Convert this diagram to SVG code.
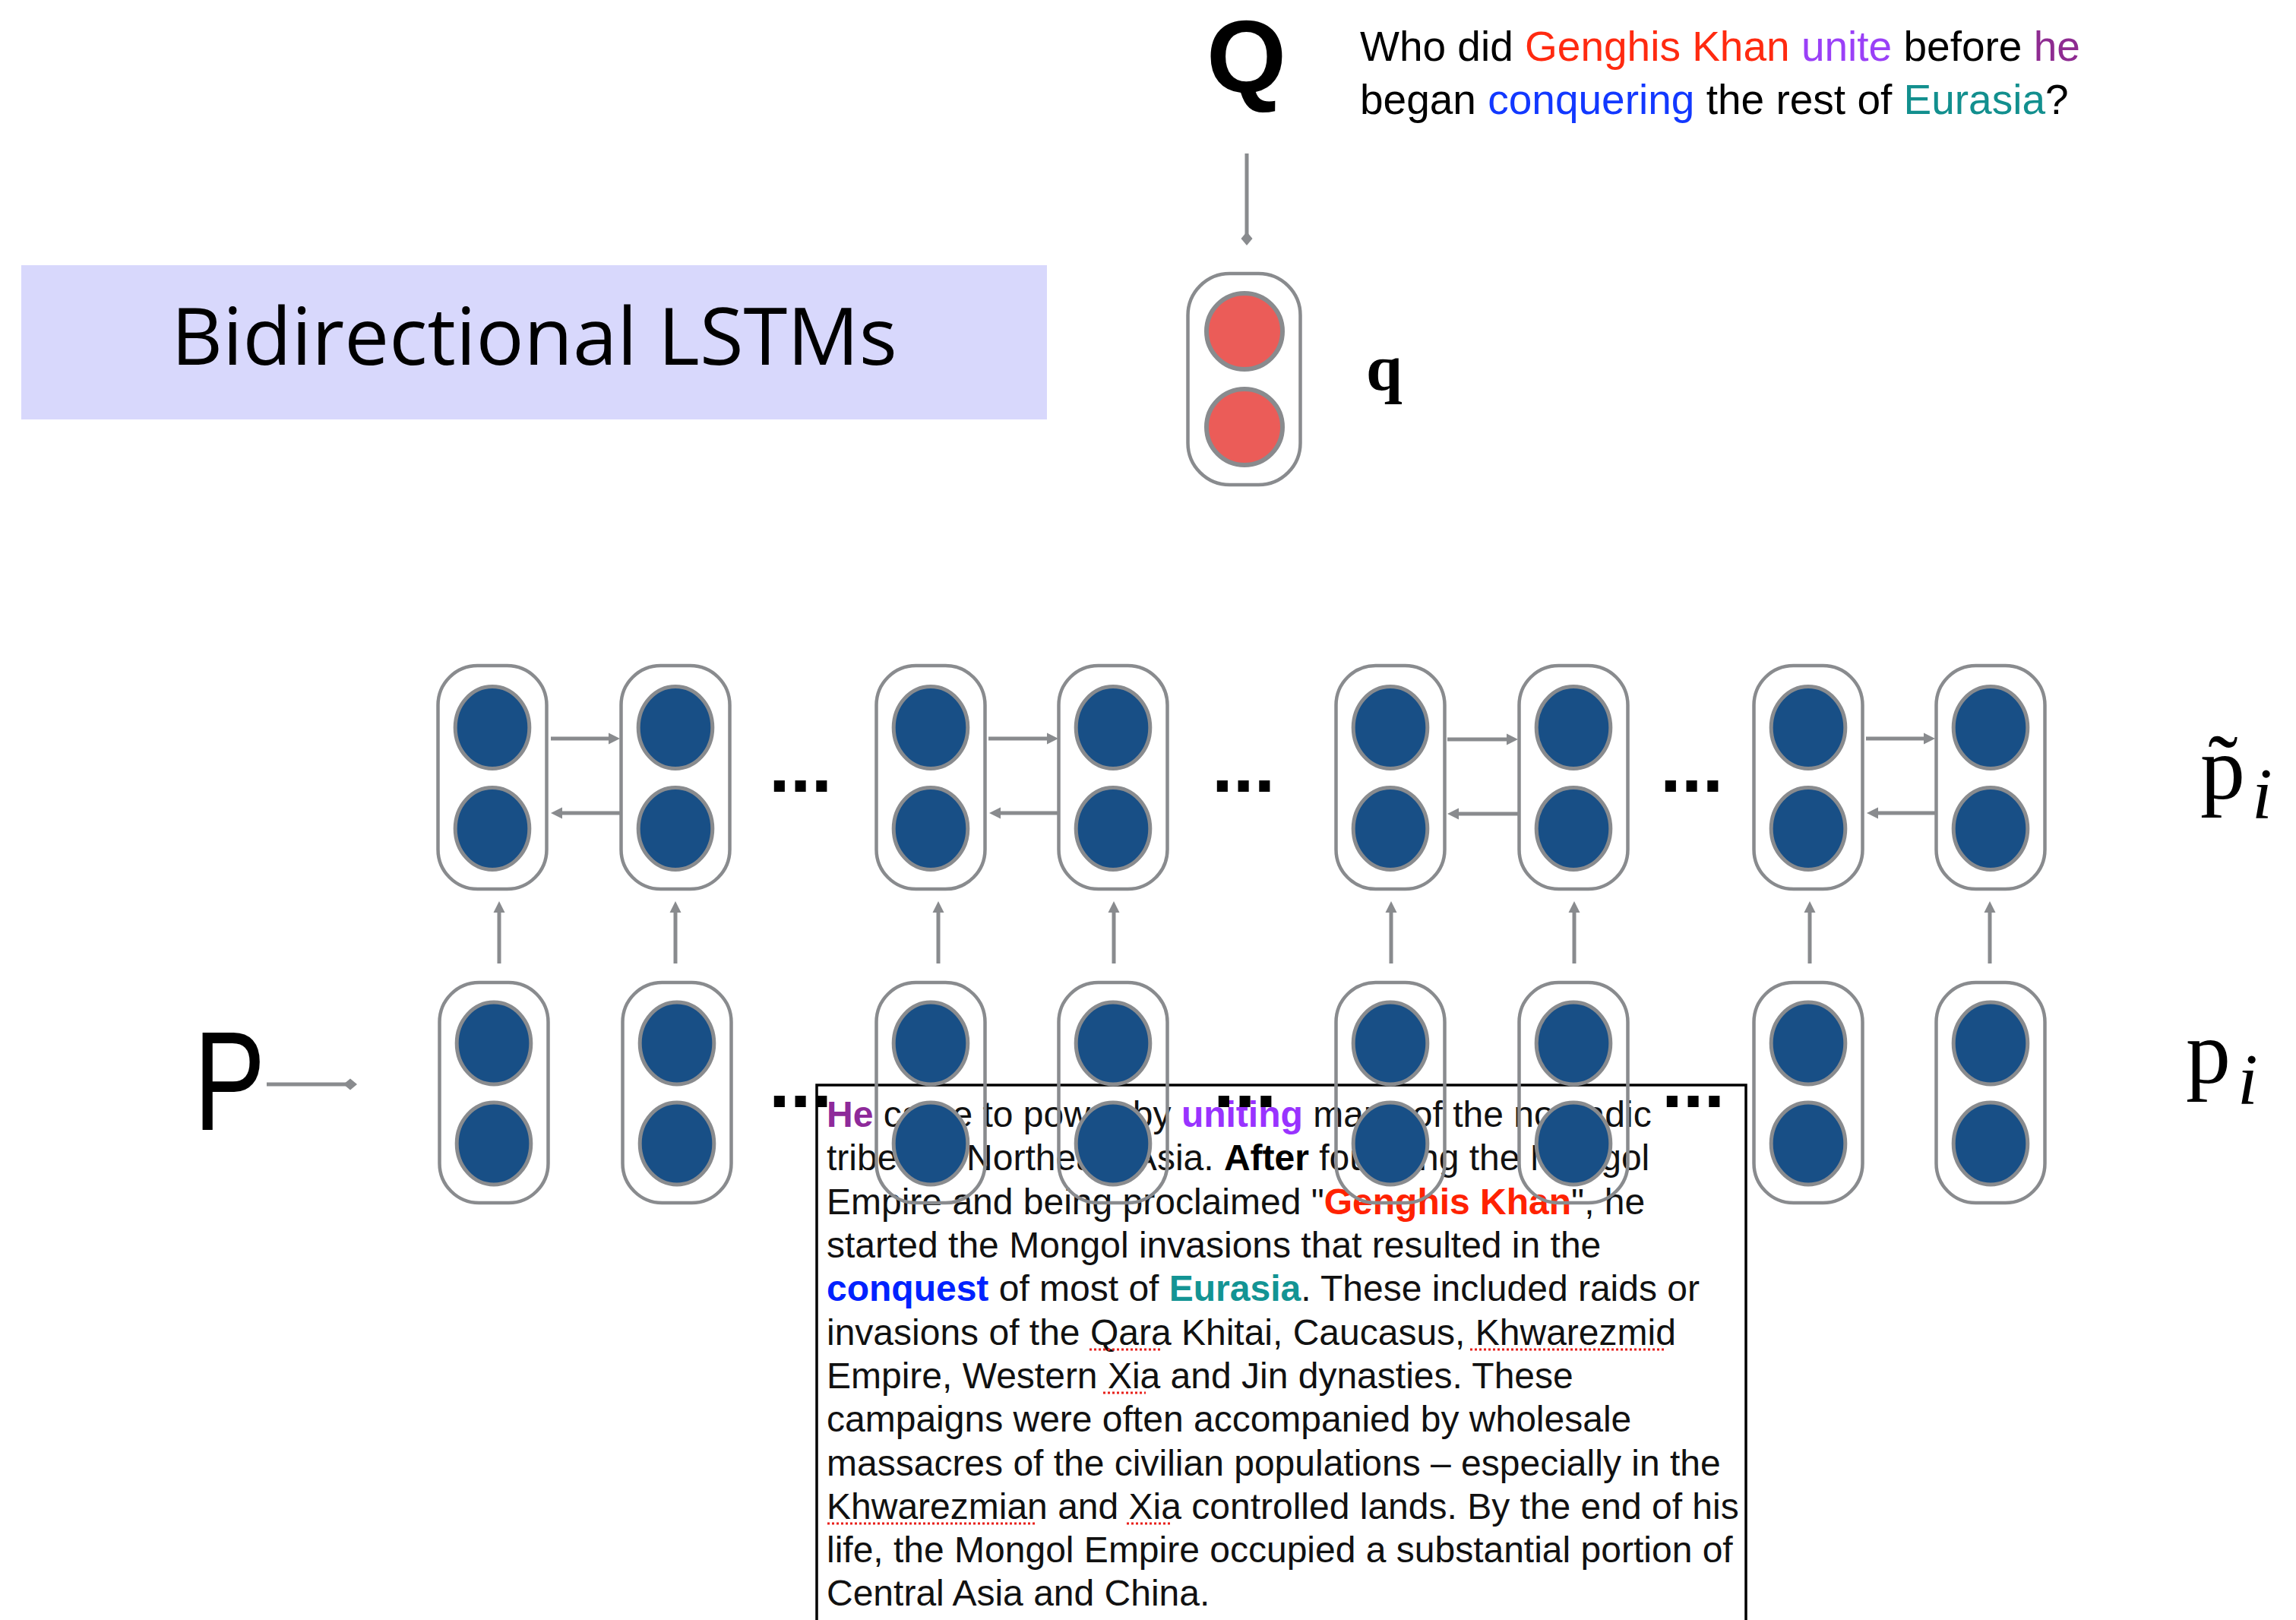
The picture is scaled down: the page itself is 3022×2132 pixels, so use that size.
<svg xmlns="http://www.w3.org/2000/svg" width="3022" height="2132" viewBox="0 0 3022 2132">
<style>
.pill{fill:none;stroke:#898B8E;stroke-width:4.5}
.cell{fill:#184F86;stroke:#898B8E;stroke-width:5}
.qcell{fill:#EB5C58;stroke:#898B8E;stroke-width:6}
.con{stroke:#898B8E;stroke-width:5;fill:none}
.dots{font-family:"Liberation Sans",Arial,sans-serif;font-weight:bold;font-size:100px;fill:#000}
.qt{font-family:"Liberation Sans",Arial,sans-serif;font-size:55px;fill:#000}
.pt{font-family:"Liberation Sans",Arial,sans-serif;font-size:48px;fill:#111}
.b{font-weight:bold}
.math{font-family:"Liberation Serif","Times New Roman",serif;fill:#000}
.sp{fill:none;stroke:#E8201A;stroke-width:3;stroke-dasharray:3 3}
</style>
<defs>
<marker id="tri" markerUnits="userSpaceOnUse" markerWidth="16" markerHeight="16" viewBox="0 -8 16 16" refX="1" refY="0" orient="auto">
<path d="M0,-7.5 L15,0 L0,7.5 Z" fill="#898B8E"/>
</marker>
<marker id="dia" markerUnits="userSpaceOnUse" markerWidth="18" markerHeight="16" viewBox="0 -8 18 16" refX="9" refY="0" orient="auto">
<path d="M0,0 L9,-7.5 L18,0 L9,7.5 Z" fill="#898B8E"/>
</marker>
<g id="cellT">
<rect class="pill" x="-71.5" y="876" width="143" height="294" rx="52" ry="52"/>
<ellipse class="cell" cx="0" cy="957.5" rx="48.8" ry="54"/>
<ellipse class="cell" cx="0" cy="1090.5" rx="48.8" ry="54"/>
</g>
<g id="cellB">
<rect class="pill" x="-71.5" y="1293" width="143" height="290" rx="52" ry="52"/>
<ellipse class="cell" cx="0" cy="1373" rx="48.8" ry="54"/>
<ellipse class="cell" cx="0" cy="1505" rx="48.8" ry="54"/>
</g>
</defs>
<rect width="3022" height="2132" fill="#fff"/>

<g id="title">
<rect x="28" y="349" width="1350" height="203" fill="#D8D8FC"/>
<text x="703" y="480" text-anchor="middle" font-family="'Open Sans',sans-serif" font-size="105" fill="#000">Bidirectional LSTMs</text>
</g>

<g id="question">
<text x="1588" y="121" font-family="'Liberation Sans',Arial,sans-serif" font-size="135" font-weight="bold" fill="#000">Q</text>
<text class="qt" x="1790" y="80">Who did <tspan fill="#FF2A10">Genghis Khan</tspan> <tspan fill="#9A40F7">unite</tspan> before <tspan fill="#8E2B91">he</tspan></text>
<text class="qt" x="1790" y="150">began <tspan fill="#1238FF">conquering</tspan> the rest of <tspan fill="#128F8E">Eurasia</tspan>?</text>
</g>

<g id="passage">
<path d="M1075,2145 V1428 H2298 V2145" fill="#fff" stroke="#000" stroke-width="3.5"/>
<text class="pt" x="1088" y="1483"><tspan class="b" fill="#8E2A9A">He</tspan> came to power by <tspan class="b" fill="#9933FF">uniting</tspan> many of the nomadic</text>
<text class="pt" x="1088" y="1540">tribes of Northeast Asia. <tspan class="b" fill="#000">After</tspan> founding the Mongol</text>
<text class="pt" x="1088" y="1598">Empire and being proclaimed "<tspan class="b" fill="#FF2200">Genghis Khan</tspan>", he</text>
<text class="pt" x="1088" y="1655">started the Mongol invasions that resulted in the</text>
<text class="pt" x="1088" y="1712"><tspan class="b" fill="#0022FF">conquest</tspan> of most of <tspan class="b" fill="#139494">Eurasia</tspan>. These included raids or</text>
<text class="pt" x="1088" y="1770">invasions of the Qara Khitai, Caucasus, Khwarezmid</text>
<text class="pt" x="1088" y="1827">Empire, Western Xia and Jin dynasties. These</text>
<text class="pt" x="1088" y="1884">campaigns were often accompanied by wholesale</text>
<text class="pt" x="1088" y="1942">massacres of the civilian populations – especially in the</text>
<text class="pt" x="1088" y="1999">Khwarezmian and Xia controlled lands. By the end of his</text>
<text class="pt" x="1088" y="2056">life, the Mongol Empire occupied a substantial portion of</text>
<text class="pt" x="1088" y="2113">Central Asia and China.</text>
<path class="sp" d="M1434,1776 H1530 M1935,1776 H2190 M1452,1833 H1508 M1089,2005 H1365 M1483,2005 H1541"/>
</g>

<g id="q-node">
<rect class="pill" x="1563.5" y="360" width="148" height="278" rx="55" ry="55"/>
<circle class="qcell" cx="1638" cy="436" r="50"/>
<circle class="qcell" cx="1638" cy="562" r="50"/>
</g>
<text class="math" x="1798" y="513" font-size="86" font-weight="bold">q</text>

<g id="ptilde-nodes">
<g id="pt1"><use href="#cellT" x="648"/></g>
<g id="pt2"><use href="#cellT" x="889"/></g>
<g id="pt3"><use href="#cellT" x="1225"/></g>
<g id="pt4"><use href="#cellT" x="1465"/></g>
<g id="pt5"><use href="#cellT" x="1830"/></g>
<g id="pt6"><use href="#cellT" x="2071"/></g>
<g id="pt7"><use href="#cellT" x="2380"/></g>
<g id="pt8"><use href="#cellT" x="2620"/></g>
</g>
<g id="p-nodes">
<g id="p1"><use href="#cellB" x="650"/></g>
<g id="p2"><use href="#cellB" x="891"/></g>
<g id="p3"><use href="#cellB" x="1225"/></g>
<g id="p4"><use href="#cellB" x="1465"/></g>
<g id="p5"><use href="#cellB" x="1830"/></g>
<g id="p6"><use href="#cellB" x="2071"/></g>
<g id="p7"><use href="#cellB" x="2380"/></g>
<g id="p8"><use href="#cellB" x="2620"/></g>
</g>

<g id="ellipses">
<text class="dots" x="1012" y="1042">...</text>
<text class="dots" x="1595" y="1042">...</text>
<text class="dots" x="2185" y="1042">...</text>
<text class="dots" x="1012" y="1457">...</text>
<text class="dots" x="1597" y="1457">...</text>
<text class="dots" x="2187" y="1457">...</text>
</g>

<g id="connectors">
<line class="con" x1="1641" y1="202" x2="1641" y2="314" marker-end="url(#dia)"/>
<line class="con" x1="351" y1="1427" x2="461" y2="1427" marker-end="url(#dia)"/>
<line class="con" x1="725" y1="972" x2="802" y2="972" marker-end="url(#tri)"/>
<line class="con" x1="816" y1="1070" x2="739" y2="1070" marker-end="url(#tri)"/>
<line class="con" x1="1301" y1="972" x2="1379" y2="972" marker-end="url(#tri)"/>
<line class="con" x1="1393" y1="1070" x2="1316" y2="1070" marker-end="url(#tri)"/>
<line class="con" x1="1905" y1="973" x2="1984" y2="973" marker-end="url(#tri)"/>
<line class="con" x1="1998" y1="1071" x2="1919" y2="1071" marker-end="url(#tri)"/>
<line class="con" x1="2456" y1="972" x2="2533" y2="972" marker-end="url(#tri)"/>
<line class="con" x1="2547" y1="1070" x2="2471" y2="1070" marker-end="url(#tri)"/>
<line class="con" x1="657" y1="1268" x2="657" y2="1200" marker-end="url(#tri)"/>
<line class="con" x1="889" y1="1268" x2="889" y2="1200" marker-end="url(#tri)"/>
<line class="con" x1="1235" y1="1268" x2="1235" y2="1200" marker-end="url(#tri)"/>
<line class="con" x1="1466" y1="1268" x2="1466" y2="1200" marker-end="url(#tri)"/>
<line class="con" x1="1831" y1="1268" x2="1831" y2="1200" marker-end="url(#tri)"/>
<line class="con" x1="2072" y1="1268" x2="2072" y2="1200" marker-end="url(#tri)"/>
<line class="con" x1="2382" y1="1268" x2="2382" y2="1200" marker-end="url(#tri)"/>
<line class="con" x1="2619" y1="1268" x2="2619" y2="1200" marker-end="url(#tri)"/>
</g>

<g id="labels">
<text x="255" y="1487" font-family="'Liberation Sans',Arial,sans-serif" font-size="186" fill="#000" transform="translate(255 0) scale(0.76 1) translate(-255 0)">P</text>
<text class="math" x="2896" y="1051" font-size="118">p&#771;</text>
<text class="math" x="2964" y="1077" font-size="96" font-style="italic">i</text>
<text class="math" x="2877" y="1425" font-size="118">p</text>
<text class="math" x="2945" y="1453" font-size="96" font-style="italic">i</text>
</g>
</svg>
